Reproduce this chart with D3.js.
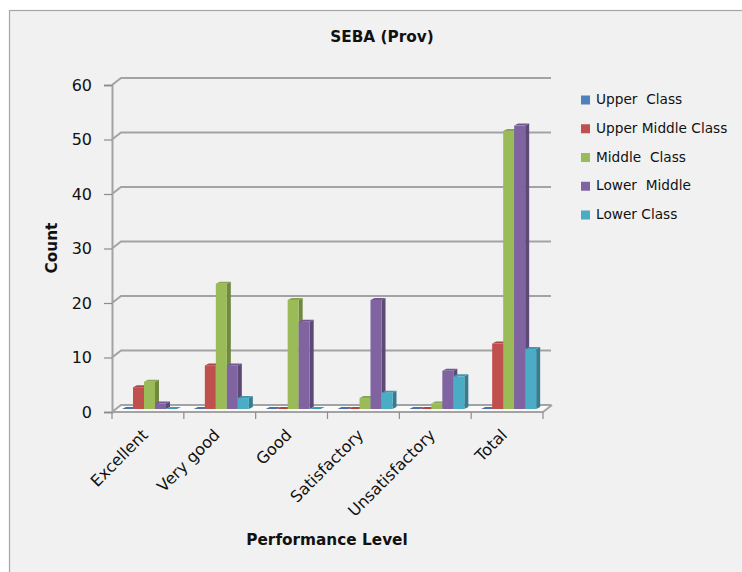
<!DOCTYPE html>
<html>
<head>
<meta charset="utf-8">
<script src="https://cdn.jsdelivr.net/npm/d3@7"></script>
<style>
  html, body { margin: 0; padding: 0; background: #fff; }
  svg { display: block; }
  text { font-family: "DejaVu Sans", sans-serif; fill: #111; }
</style>
</head>
<body>
<svg id="chart"></svg>
<script>
const categories = ["Excellent", "Very good", "Good", "Satisfactory", "Unsatisfactory", "Total"];
const seriesNames = ["Upper  Class", "Upper Middle Class", "Middle  Class", "Lower  Middle", "Lower Class"];
const upperClass = [0, 0, 0, 0, 0, 0];
const upperMiddleClass = [4, 8, 0, 0, 0, 12];
const middleClass = [5, 23, 20, 2, 1, 51];
const lowerMiddle = [1, 8, 16, 20, 7, 52];
const lowerClass = [0, 2, 0, 3, 6, 11];
const yTicks = [0, 10, 20, 30, 40, 50, 60];
const seriesValues = [upperClass, upperMiddleClass, middleClass, lowerMiddle, lowerClass];
const colors = ["#4f81bd", "#c0504d", "#9bbb59", "#8064a2", "#4bacc6"];

const W = 742, H = 572;
const svg = d3.select("#chart").attr("width", W).attr("height", H);

// page background + frame
svg.append("rect").attr("width", W).attr("height", H).attr("fill", "#fff");
svg.append("rect").attr("x", 9.5).attr("y", 10.5).attr("width", W).attr("height", H)
  .attr("fill", "#f1f1f1").attr("stroke", "#a6a6a6").attr("stroke-width", 1.2);

const x = d3.scaleBand().domain(categories).range([112, 543]);
const y = d3.scaleLinear().domain([0, 60]).range([412, 85]);
const inner = d3.scaleBand().domain(d3.range(5)).range([10, 65]);

const depthX = 9, depthY = 7;   // wall offset
const barBase = -3;  // bars sit inside the floor
const sideX = 4, sideY = 2;

const poly = (pts) => pts.map(p => p.join(",")).join(" ");

// floor
svg.append("polygon")
  .attr("points", poly([[112, y(0)], [543, y(0)], [543 + depthX, y(0) - depthY], [112 + depthX, y(0) - depthY]]))
  .attr("fill", "#fafafa");

// back wall gridlines with the little slanted joins
const grid = svg.append("g").attr("fill", "none").attr("stroke", "#a3a3a3").attr("stroke-width", 2);
yTicks.forEach(t => {
  grid.append("polyline")
    .attr("points", poly([[112, y(t)], [112 + depthX, y(t) - depthY], [551, y(t) - depthY]]));
});
grid.append("line").attr("x1", 543).attr("y1", y(0)).attr("x2", 543 + depthX).attr("y2", y(0) - depthY);

// axes
const yAxis = svg.append("g").attr("transform", "translate(112,0)")
  .call(d3.axisLeft(y).tickValues(yTicks).tickSize(8).tickPadding(12));
yAxis.selectAll("text").attr("font-size", 16).style("font-family", '"DejaVu Sans", sans-serif');
yAxis.selectAll("line").attr("stroke", "#8c8c8c").attr("stroke-width", 1.2);
yAxis.select(".domain").attr("stroke", "#a3a3a3").attr("stroke-width", 2);

svg.append("line").attr("x1", 112).attr("x2", 543).attr("y1", y(0)).attr("y2", y(0))
  .attr("stroke", "#a3a3a3").attr("stroke-width", 2);
svg.append("g").selectAll("line").data(d3.range(7)).join("line")
  .attr("x1", i => 112 + i * x.step()).attr("x2", i => 112 + i * x.step())
  .attr("y1", y(0)).attr("y2", y(0) + 7)
  .attr("stroke", "#8c8c8c").attr("stroke-width", 1.2);

// 3d bars
const darker = c => d3.color(c).darker(0.9).formatHex();
const lighter = c => d3.color(c).darker(0.35).formatHex();
categories.forEach((cat, ci) => {
  const g = svg.append("g");
  seriesValues.forEach((vals, si) => {
    const v = vals[ci];
    const x0 = x(cat) + inner(si), x1 = x0 + inner.bandwidth();
    const base = y(0) + barBase, top = y(v) + barBase;
    // side
    g.append("polygon")
      .attr("points", poly([[x1, top], [x1 + sideX, top - sideY], [x1 + sideX, base - sideY], [x1, base]]))
      .attr("fill", darker(colors[si]));
    // top
    g.append("polygon")
      .attr("points", poly([[x0, top], [x0 + sideX, top - sideY], [x1 + sideX, top - sideY], [x1, top]]))
      .attr("fill", lighter(colors[si]));
    // front
    if (v > 0) {
      g.append("rect").attr("x", x0).attr("y", top).attr("width", x1 - x0).attr("height", base - top)
        .attr("fill", colors[si]);
    }
  });
});

// category labels
svg.append("g").selectAll("text").data(categories).join("text")
  .attr("text-anchor", "end").attr("font-size", 16)
  .attr("transform", d => `translate(${x(d) + x.bandwidth() / 2 + 1},${436}) rotate(-45)`)
  .text(d => d);

// titles
svg.append("text").attr("x", 382).attr("y", 42).attr("text-anchor", "middle")
  .attr("font-size", 15.3).attr("font-weight", 700).text("SEBA (Prov)");
svg.append("text").attr("x", 327).attr("y", 545).attr("text-anchor", "middle")
  .attr("font-size", 15.3).attr("font-weight", 700).text("Performance Level");
svg.append("text").attr("transform", "translate(57,248) rotate(-90)").attr("text-anchor", "middle")
  .attr("font-size", 15.3).attr("font-weight", 700).text("Count");

// legend
const legendY = d3.scalePoint().domain(seriesNames).range([100, 215]);
const legend = svg.append("g").selectAll("g").data(seriesNames).join("g")
  .attr("transform", d => `translate(581,${legendY(d)})`);
legend.append("rect").attr("y", -4.5).attr("width", 9).attr("height", 9)
  .attr("fill", (d, i) => colors[i]);
legend.append("text").attr("x", 15).attr("y", 4).attr("font-size", 13.7).style("white-space", "pre")
  .text(d => d);
</script>
</body>
</html>
